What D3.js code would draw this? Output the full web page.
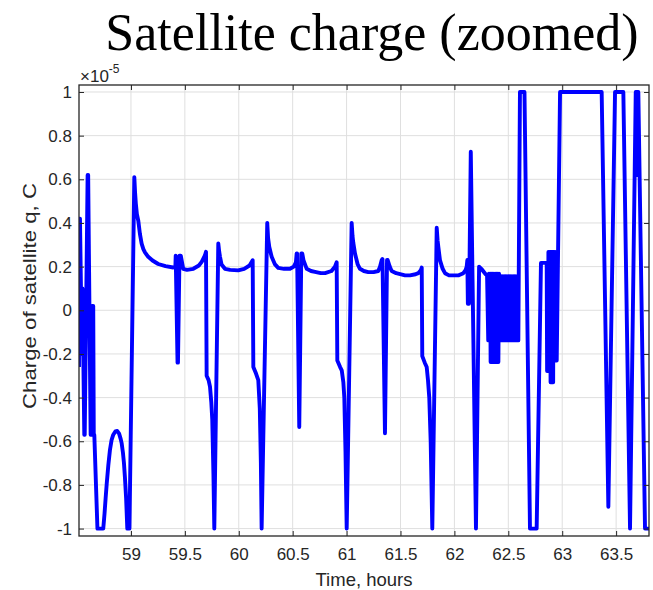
<!DOCTYPE html>
<html>
<head>
<meta charset="utf-8">
<script src="https://cdn.jsdelivr.net/npm/d3@7"></script>
<style>
  html, body { margin: 0; padding: 0; background: #fff; }
  svg { display: block; }
</style>
</head>
<body>
<svg id="chart" width="653" height="590"></svg>
<script>
// ---- data (time in hours, charge in units of 1e-5 C) ----
const timeHours = [
  58.518, 58.521, 58.527, 58.545, 58.550, 58.567, 58.571, 58.598, 58.603, 58.626,
  58.630, 58.638, 58.650, 58.655, 58.660, 58.689, 58.743, 58.755, 58.765, 58.775,
  58.790, 58.805, 58.820, 58.836, 58.855, 58.873, 58.890, 58.905, 58.914, 58.925,
  58.935, 58.944, 58.955, 58.966, 58.986,
  59.031, 59.038, 59.045, 59.055, 59.068, 59.083, 59.099, 59.115, 59.130, 59.160,
  59.200, 59.253, 59.320, 59.392, 59.412, 59.415, 59.432, 59.436, 59.450, 59.462,
  59.485, 59.520, 59.578, 59.630, 59.656, 59.685, 59.696, 59.702, 59.720, 59.733,
  59.745, 59.754, 59.765, 59.773, 59.810, 59.818, 59.826, 59.840, 59.872, 59.920,
  59.995, 60.050, 60.100, 60.129, 60.135, 60.160, 60.181, 60.195, 60.205, 60.212,
  60.264, 60.272, 60.283, 60.305, 60.336, 60.366, 60.420, 60.475, 60.510, 60.530,
  60.537, 60.541, 60.561, 60.580, 60.589, 60.600, 60.630, 60.670, 60.707, 60.760,
  60.800, 60.860, 60.892, 60.908, 60.914, 60.940, 60.955, 60.970, 60.979, 60.990,
  61.001, 61.047, 61.055, 61.062, 61.078, 61.103, 61.124, 61.160, 61.201, 61.250,
  61.294, 61.310, 61.326, 61.333, 61.356, 61.375, 61.381, 61.400, 61.418, 61.460,
  61.542, 61.588, 61.640, 61.665, 61.690, 61.697, 61.702, 61.725, 61.743, 61.755,
  61.767, 61.780, 61.795, 61.836, 61.844, 61.851, 61.866, 61.891, 61.913, 61.950,
  61.990, 62.040, 62.083, 62.105, 62.114, 62.120, 62.125, 62.130, 62.135, 62.140,
  62.152, 62.200, 62.229, 62.250, 62.266, 62.290, 62.303,
  62.314, 62.320, 62.326, 62.332, 62.336, 62.342, 62.348, 62.354, 62.360, 62.366,
  62.372, 62.378, 62.384, 62.390, 62.396, 62.402, 62.408, 62.414, 62.420, 62.426,
  62.432, 62.438, 62.444, 62.450, 62.456, 62.462, 62.468, 62.474, 62.480, 62.486,
  62.492, 62.498, 62.504, 62.510, 62.516, 62.522, 62.528, 62.534, 62.540, 62.546,
  62.552, 62.558, 62.564, 62.570, 62.576, 62.582, 62.588, 62.593,
  62.608, 62.650, 62.701, 62.763, 62.803, 62.856,
  62.860, 62.864, 62.868, 62.872, 62.876, 62.880, 62.884, 62.888, 62.892, 62.896,
  62.900, 62.904, 62.908, 62.912, 62.916, 62.920, 62.924, 62.928, 62.932, 62.936,
  62.940, 62.944, 62.949,
  62.980, 63.366, 63.428, 63.490, 63.567, 63.629, 63.682, 63.688, 63.694, 63.706,
  63.768, 63.805
];
const chargeValues = [
  -0.26, 0.42, 0.42, -0.20, 0.10, -0.57, -0.57, 0.62, 0.62, -0.57,
  -0.57, 0.02, 0.02, -0.57, -0.57, -1.00, -1.00, -0.93, -0.86, -0.795,
  -0.71, -0.64, -0.595, -0.57, -0.555, -0.553, -0.565, -0.59, -0.61, -0.65,
  -0.70, -0.765, -0.86, -1.00, -1.00,
  0.61, 0.54, 0.49, 0.44, 0.41, 0.35, 0.305, 0.28, 0.265, 0.245,
  0.228, 0.212, 0.202, 0.196, 0.20, 0.25, -0.24, -0.24, 0.25, 0.25,
  0.19, 0.185, 0.19, 0.205, 0.222, 0.25, 0.268, -0.30, -0.32, -0.35,
  -0.42, -0.50, -0.75, -1.00, 0.306, 0.27, 0.245, 0.21, 0.19, 0.185,
  0.183, 0.19, 0.205, 0.229, -0.26, -0.29, -0.32, -0.45, -0.70, -1.00,
  0.40, 0.33, 0.29, 0.245, 0.21, 0.194, 0.19, 0.19, 0.20, 0.22,
  0.26, 0.26, -0.535, 0.26, 0.26, 0.23, 0.19, 0.18, 0.176, 0.17,
  0.17, 0.18, 0.20, 0.22, -0.23, -0.26, -0.275, -0.33, -0.40, -0.65,
  -1.00, 0.40, 0.34, 0.31, 0.26, 0.21, 0.19, 0.18, 0.175, 0.175,
  0.18, 0.20, 0.23, 0.235, -0.563, 0.23, 0.23, 0.20, 0.18, 0.17,
  0.16, 0.16, 0.165, 0.17, 0.185, 0.196, -0.21, -0.24, -0.26, -0.32,
  -0.40, -0.60, -1.00, 0.378, 0.32, 0.29, 0.23, 0.19, 0.17, 0.16,
  0.16, 0.16, 0.17, 0.185, 0.20, 0.23, 0.03, 0.23, 0.03, 0.20,
  0.726, -1.00, 0.20, 0.19, 0.18, 0.165, 0.16,
  -0.138, 0.168, -0.138, 0.168, -0.237, 0.168, -0.237, 0.168, -0.237, 0.168,
  -0.237, 0.168, -0.237, 0.168, -0.237, 0.168, -0.237, 0.168, -0.138, 0.156,
  -0.138, 0.156, -0.138, 0.156, -0.138, 0.156, -0.138, 0.156, -0.138, 0.156,
  -0.138, 0.156, -0.138, 0.156, -0.138, 0.156, -0.138, 0.156, -0.138, 0.156,
  -0.138, 0.156, -0.138, 0.156, -0.138, 0.156, -0.138, -0.138,
  1.00, 1.00, -1.00, -1.00, 0.217, 0.217,
  -0.278, 0.217, -0.278, 0.267, -0.278, 0.267, -0.278, 0.267, -0.33, 0.267,
  -0.33, 0.267, -0.33, 0.267, -0.33, 0.267, -0.23, 0.267, -0.23, 0.267,
  -0.23, 0.267, -0.23,
  1.00, 1.00, -0.90, 1.00, 1.00, -1.00, 1.00, 0.62, 1.00, 1.00,
  -1.00, -1.00
];
const xTicks = [59, 59.5, 60, 60.5, 61, 61.5, 62, 62.5, 63, 63.5];
const xTickLabels = ["59", "59.5", "60", "60.5", "61", "61.5", "62", "62.5", "63", "63.5"];
const yTicks = [-1, -0.8, -0.6, -0.4, -0.2, 0, 0.2, 0.4, 0.6, 0.8, 1];
const yTickLabels = ["-1", "-0.8", "-0.6", "-0.4", "-0.2", "0", "0.2", "0.4", "0.6", "0.8", "1"];
const xDomain = [58.518, 63.805];
const yDomain = [-1.034, 1.032];
const titleText = "Satellite charge (zoomed)";
const xLabelText = "Time, hours";
const yLabelText = "Charge of satellite q, C";

// ---- layout ----
const L = 79, R = 649, T = 85, B = 536;
const axisColor = "#262626";
const gridColor = "#dfdfdf";
const tickFont = "'Liberation Sans', Arial, Helvetica, sans-serif";

const svg = d3.select("#chart");
const x = d3.scaleLinear().domain(xDomain).range([L, R]);
const y = d3.scaleLinear().domain(yDomain).range([B, T]);

// grid
const grid = svg.append("g");
grid.selectAll("line.gx").data(xTicks).join("line")
  .attr("x1", d => x(d)).attr("x2", d => x(d))
  .attr("y1", T).attr("y2", B)
  .attr("stroke", gridColor).attr("stroke-width", 1);
grid.selectAll("line.gy").data(yTicks).join("line")
  .attr("y1", d => y(d)).attr("y2", d => y(d))
  .attr("x1", L).attr("x2", R)
  .attr("stroke", gridColor).attr("stroke-width", 1);

// data line
svg.append("defs").append("clipPath").attr("id", "clip")
  .append("rect").attr("x", L).attr("y", T).attr("width", R - L).attr("height", B - T);
const pts = timeHours.map((t, i) => [t, chargeValues[i]]);
const line = d3.line().x(d => x(d[0])).y(d => y(d[1]));
svg.append("path")
  .attr("d", line(pts))
  .attr("clip-path", "url(#clip)")
  .attr("fill", "none")
  .attr("stroke", "#0000ff")
  .attr("stroke-width", 3.9)
  .attr("stroke-linejoin", "round")
  .attr("stroke-linecap", "butt");

// axes (box with inward ticks on all sides)
const tickLen = 5;
const xb = d3.axisBottom(x).tickValues(xTicks).tickFormat((d, i) => xTickLabels[i])
  .tickSizeInner(-tickLen).tickSizeOuter(0).tickPadding(12);
const gxb = svg.append("g").attr("transform", `translate(0,${B})`).call(xb);
const xt = d3.axisTop(x).tickValues(xTicks).tickFormat("").tickSizeInner(-tickLen).tickSizeOuter(0);
const gxt = svg.append("g").attr("transform", `translate(0,${T})`).call(xt);
const yl = d3.axisLeft(y).tickValues(yTicks).tickFormat((d, i) => yTickLabels[i])
  .tickSizeInner(-tickLen).tickSizeOuter(0).tickPadding(7);
const gyl = svg.append("g").attr("transform", `translate(${L},0)`).call(yl);
const yr = d3.axisRight(y).tickValues(yTicks).tickFormat("").tickSizeInner(-tickLen).tickSizeOuter(0);
const gyr = svg.append("g").attr("transform", `translate(${R},0)`).call(yr);

[gxb, gxt, gyl, gyr].forEach(g => {
  g.select(".domain").remove();
  g.selectAll(".tick line").attr("stroke", axisColor).attr("stroke-width", 1);
  g.selectAll("text").attr("fill", axisColor)
    .style("font-family", tickFont).style("font-size", "17px");
});

// box
svg.append("rect").attr("x", L).attr("y", T).attr("width", R - L).attr("height", B - T)
  .attr("fill", "none").attr("stroke", axisColor).attr("stroke-width", 1.3);

// exponent label
const expo = svg.append("text").attr("x", L + 1).attr("y", 82)
  .attr("fill", axisColor).style("font-family", tickFont).style("font-size", "17px");
expo.append("tspan").text("\u00d710");
expo.append("tspan").attr("dy", -9).style("font-size", "12px").text("-5");

// axis labels
svg.append("text").attr("x", (L + R) / 2).attr("y", 586)
  .attr("text-anchor", "middle").attr("fill", axisColor)
  .style("font-family", tickFont).style("font-size", "18.5px").text(xLabelText);
svg.append("text").attr("transform", `translate(36,296) rotate(-90)`)
  .attr("text-anchor", "middle").attr("fill", axisColor)
  .attr("textLength", 226).attr("lengthAdjust", "spacingAndGlyphs")
  .style("font-family", tickFont).style("font-size", "19px").text(yLabelText);

// title
svg.append("text").attr("x", 372).attr("y", 50)
  .attr("text-anchor", "middle").attr("fill", "#000")
  .style("font-family", "'Liberation Serif', 'Times New Roman', serif")
  .style("font-size", "52px").text(titleText);
</script>
</body>
</html>
